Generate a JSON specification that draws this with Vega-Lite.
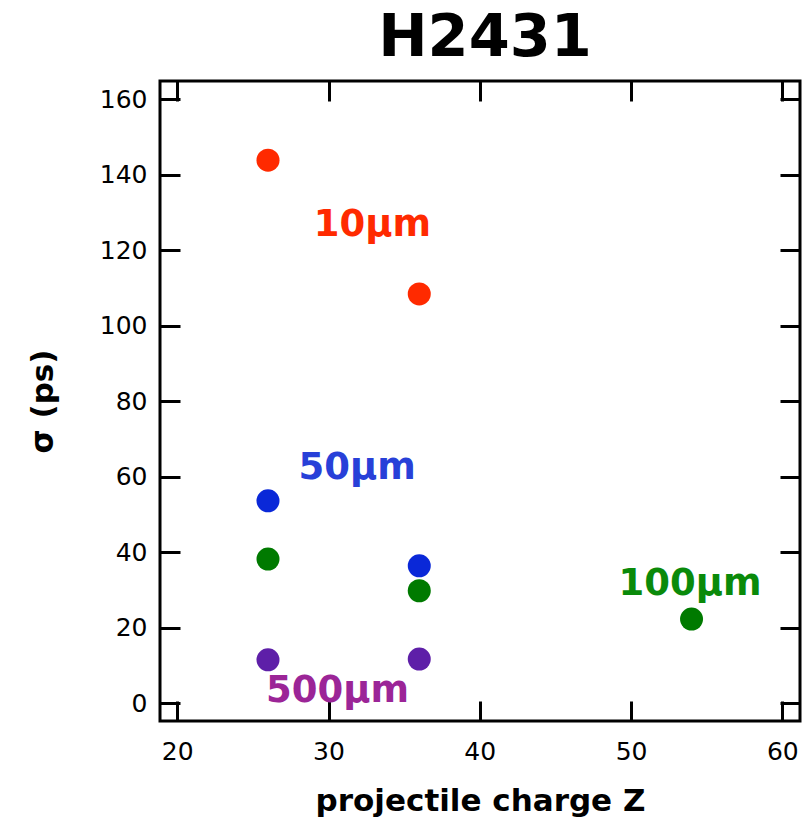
{
  "$schema": "https://vega.github.io/schema/vega-lite/v6.json",
  "autosize": "none",
  "width": 640,
  "height": 640,
  "padding": {"left": 160, "top": 81, "right": 6, "bottom": 103},
  "background": "white",
  "title": {"text": "H2431", "fontSize": 59, "fontWeight": "bold", "font": "DejaVu Sans", "anchor": "middle", "offset": 12, "dx": 5, "color": "black"},
  "config": {
    "view": {"stroke": "black", "strokeWidth": 3},
    "axis": {
      "domain": false, "grid": false,
      "labelFont": "DejaVu Sans", "labelFontSize": 25, "labelColor": "black",
      "tickColor": "black", "tickWidth": 3, "tickSize": -20,
      "titleFont": "DejaVu Sans", "titleFontWeight": "bold", "titleFontSize": 31, "titleColor": "black"
    }
  },
  "datasets": {
    "points": [
      {"Z": 26, "sigma": 143.8, "series": "10um"},
      {"Z": 36, "sigma": 108.4, "series": "10um"},
      {"Z": 26, "sigma": 53.6, "series": "50um"},
      {"Z": 36, "sigma": 36.4, "series": "50um"},
      {"Z": 26, "sigma": 38.2, "series": "100um"},
      {"Z": 36, "sigma": 29.8, "series": "100um"},
      {"Z": 54, "sigma": 22.3, "series": "100um"},
      {"Z": 26, "sigma": 11.5, "series": "500um"},
      {"Z": 36, "sigma": 11.7, "series": "500um"}
    ],
    "labels": [
      {"Z": 32.9, "sigma": 123.7, "label": "10μm", "series": "10um"},
      {"Z": 31.9, "sigma": 59.4, "label": "50μm", "series": "50um"},
      {"Z": 53.9, "sigma": 28.7, "label": "100μm", "series": "100um"},
      {"Z": 30.6, "sigma": 0.35, "label": "500μm", "series": "500um"}
    ]
  },
  "layer": [
    {
      "data": {"name": "points"},
      "mark": {"type": "point", "filled": true, "opacity": 1, "size": 530, "shape": "circle", "strokeWidth": 0},
      "encoding": {
        "x": {"field": "Z", "type": "quantitative", "scale": {"domain": [18.86, 61.17], "nice": false, "zero": false},
              "axis": {"orient": "bottom", "values": [20, 30, 40, 50, 60], "title": "projectile charge Z", "labelPadding": 38, "titlePadding": 22}},
        "y": {"field": "sigma", "type": "quantitative", "scale": {"domain": [-4.69, 164.77], "nice": false, "zero": false},
              "axis": {"orient": "left", "values": [0, 20, 40, 60, 80, 100, 120, 140, 160], "title": "σ (ps)", "labelPadding": 33, "titlePadding": 40}},
        "color": {"field": "series", "type": "nominal", "legend": null,
                  "scale": {"domain": ["10um", "50um", "100um", "500um"], "range": ["#ff2a00", "#0a28d8", "#007a00", "#5e1fa8"]}}
      }
    },
    {
      "data": {"name": "labels"},
      "mark": {"type": "text", "font": "DejaVu Sans", "fontWeight": "bold", "fontSize": 37, "align": "center", "baseline": "alphabetic"},
      "encoding": {
        "x": {"field": "Z", "type": "quantitative", "axis": {"orient": "top", "values": [20, 30, 40, 50, 60], "labels": false, "title": null}},
        "y": {"field": "sigma", "type": "quantitative", "axis": {"orient": "right", "values": [0, 20, 40, 60, 80, 100, 120, 140, 160], "labels": false, "title": null}},
        "text": {"field": "label"},
        "color": {"field": "series", "type": "nominal", "legend": null,
                  "scale": {"domain": ["10um", "50um", "100um", "500um"], "range": ["#ff2a00", "#2840d8", "#0a8a0a", "#9b2597"]}}
      }
    }
  ],
  "resolve": {"axis": {"x": "independent", "y": "independent"}, "scale": {"color": "independent"}}
}
